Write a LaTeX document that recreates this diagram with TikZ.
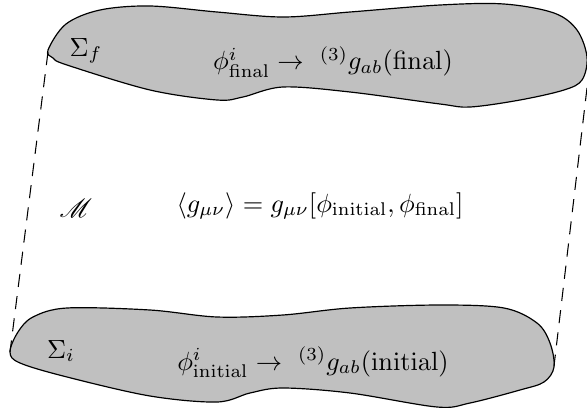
\documentclass[tikz,border=0pt]{standalone}
\usepackage{amsmath}
\usepackage{mathrsfs}
\definecolor{blobgray}{RGB}{192,192,192}
\begin{document}
\begin{tikzpicture}[x=0.38pt,y=-0.38pt,
  blob/.style={fill=blobgray,draw=black,line width=0.45pt},
  sideedge/.style={dash pattern=on 5pt off 3.5pt,line width=0.4pt},
  lbl/.style={anchor=base,inner sep=0pt}]
\useasboundingbox (0,0) rectangle (587,410);
\begin{scope}
\clip (0,0) rectangle (587,410);
\draw[blob] plot[smooth cycle,tension=0.55] coordinates {
  (48,50) (66,24) (100,10) (150,6) (217,12) (283,17) (350,12) (440,5)
  (504,4) (554,13) (577,30) (587,57) (582,80) (564,90) (520,100)
  (470,107) (440,104) (350,92) (283,87) (243,97) (217,100) (150,90)
  (67,65) (53,58)};
\draw[blob] plot[smooth cycle,tension=0.55] coordinates {
  (10,352) (18,332) (33,317) (67,308) (150,310) (217,317) (283,315)
  (350,308) (440,305) (504,308) (537,323) (550,343) (554,367) (544,382)
  (520,390) (470,403) (437,407) (350,393) (283,388) (250,393) (217,402)
  (150,396) (67,377) (20,363)};
\end{scope}
\coordinate (ftl) at (48,52);
\coordinate (itl) at (10,352);
\coordinate (ftr) at (587,88);
\coordinate (itr) at (554,366);
\draw[sideedge] (ftl) -- (itl);
\draw[sideedge] (ftr) -- (itr);
\node[lbl] (sigf) at (86,56) {$\Sigma_f$};
\node[lbl] (finf) at (333,70) {$\phi^i_{\mathrm{final}} \to\ {}^{(3)}g_{ab}(\mathrm{final})$};
\node[lbl] (man) at (76,217) {$\mathscr{M}$};
\node[lbl] (avg) at (320,212) {$\langle g_{\mu\nu}\rangle = g_{\mu\nu}[\phi_{\mathrm{initial}},\phi_{\mathrm{final}}]$};
\node[lbl] (sigi) at (61,358) {$\Sigma_i$};
\node[lbl] (ini) at (313,370) {$\phi^i_{\mathrm{initial}} \to\ {}^{(3)}g_{ab}(\mathrm{initial})$};
\end{tikzpicture}
\end{document}
